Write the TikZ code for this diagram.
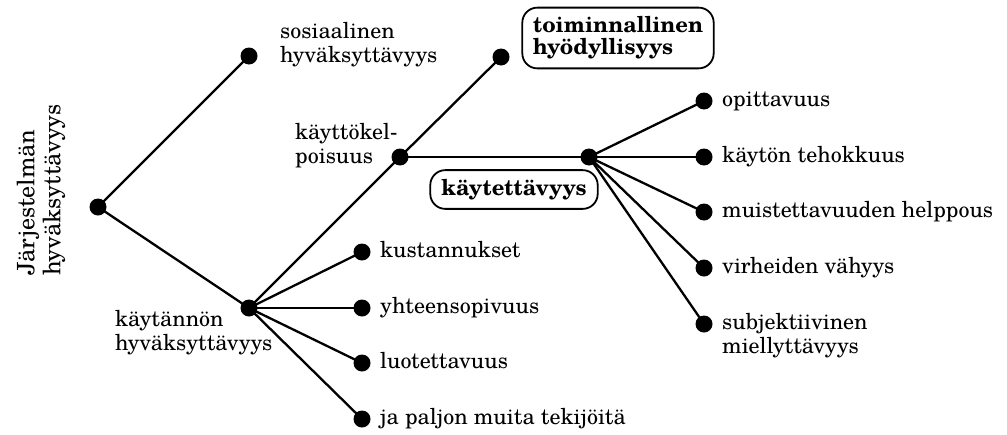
\documentclass[tikz,border=0pt]{standalone}
\usepackage{fontspec}
\setmainfont{texgyreschola}[Extension=.otf, UprightFont=*-regular, BoldFont=*-bold, ItalicFont=*-italic, BoldItalicFont=*-bolditalic]
\begin{document}
\begin{tikzpicture}[x=1pt,y=-1pt,
  dot/.style={circle,fill=black,inner sep=0pt,minimum size=17pt},
  edge/.style={line width=2.3pt},
  lbl/.style={font=\fontsize{22}{24}\selectfont, inner sep=0pt, align=left},
  rbox/.style={draw,line width=1.8pt,rounded corners=15pt,font=\fontsize{22}{22}\selectfont\bfseries,inner xsep=10.5pt,inner ysep=9pt,align=left}]
\useasboundingbox (0,0) rectangle (1007,434);
% dots
\node[dot] (R) at (98,207) {};
\node[dot] (S) at (249,56) {};
\node[dot] (P) at (249,308) {};
\node[dot] (U) at (400,157) {};
\node[dot] (T) at (501,57) {};
\node[dot] (H) at (589,157) {};
\foreach \i/\y in {1/101,2/157,3/212,4/268,5/324} \node[dot] (o\i) at (704,\y) {};
\foreach \i/\y in {1/252,2/308,3/363,4/419} \node[dot] (c\i) at (362,\y) {};
% edges
\draw[edge] (R.center) -- (S.center);
\draw[edge] (R.center) -- (P.center);
\draw[edge] (P.center) -- (U.center);
\draw[edge] (U.center) -- (T.center);
\draw[edge] (U.center) -- (H.center);
\foreach \i in {1,...,5} \draw[edge] (H.center) -- (o\i.center);
\foreach \i in {1,...,4} \draw[edge] (P.center) -- (c\i.center);
% labels
\node[font=\fontsize{24}{26}\selectfont, rotate=90, align=left, inner sep=0pt] (title) at (41,190) {Järjestelmän\\hyväksyttävyys};
\node[lbl, anchor=west] (Sl) at (280,45) {sosiaalinen\\hyväksyttävyys};
\node[lbl, anchor=west] (Pl) at (115,333) {käytännön\\hyväksyttävyys};
\node[lbl, anchor=west] (Ul) at (295,146) {käyttökel-\\poisuus};
\node[rbox] (Tb) at (618,38) {toiminnallinen\\hyödyllisyys};
\node[rbox, inner xsep=11pt] (Hb) at (514,189.5) {käytettävyys};
\node[lbl, anchor=base west] (o1l) at (722,106) {opittavuus};
\node[lbl, anchor=base west] (o2l) at (722,162) {käytön tehokkuus};
\node[lbl, anchor=base west] (o3l) at (722,217) {muistettavuuden helppous};
\node[lbl, anchor=base west] (o4l) at (722,273) {virheiden vähyys};
\node[lbl, anchor=west] (o5l) at (722,336) {subjektiivinen\\miellyttävyys};
\node[lbl, anchor=base west] (c1l) at (380,257) {kustannukset};
\node[lbl, anchor=base west] (c2l) at (380,313) {yhteensopivuus};
\node[lbl, anchor=base west] (c3l) at (380,368) {luotettavuus};
\node[lbl, anchor=base west] (c4l) at (380,424) {ja paljon muita tekijöitä};
\end{tikzpicture}
\end{document}
